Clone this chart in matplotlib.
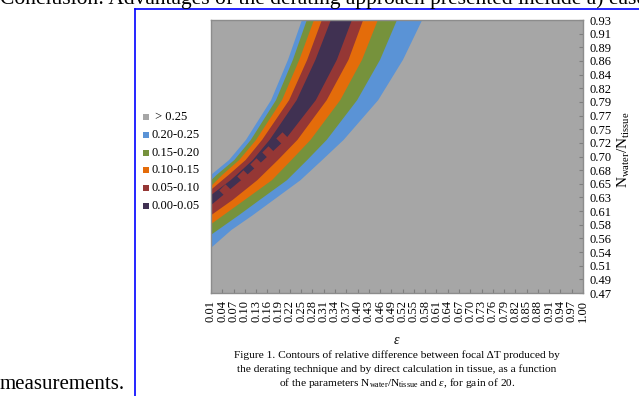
import matplotlib
matplotlib.use("Agg")
import numpy as np
import matplotlib.pyplot as plt
from matplotlib.lines import Line2D
from matplotlib.patches import Rectangle

plt.rcParams['font.family'] = ['Liberation Serif', 'DejaVu Serif']
plt.rcParams['mathtext.fontset'] = 'custom'
plt.rcParams['mathtext.rm'] = 'Liberation Serif'
plt.rcParams['mathtext.it'] = 'Liberation Serif:italic'

# category labels
eps_labels = ["0.01", "0.04", "0.07", "0.10", "0.13", "0.16", "0.19", "0.22",
              "0.25", "0.28", "0.31", "0.34", "0.37", "0.40", "0.43", "0.46",
              "0.49", "0.52", "0.55", "0.58", "0.61", "0.64", "0.67", "0.70",
              "0.73", "0.76", "0.79", "0.82", "0.85", "0.88", "0.91", "0.94",
              "0.97", "1.00"]
ratio_labels = ["0.47", "0.49", "0.51", "0.54", "0.56", "0.58", "0.61", "0.63",
                "0.65", "0.68", "0.70", "0.72", "0.75", "0.77", "0.79", "0.82",
                "0.84", "0.86", "0.89", "0.91", "0.93"]

legend_labels = [" > 0.25", "0.20-0.25", "0.15-0.20", "0.10-0.15", "0.05-0.10", "0.00-0.05"]
legend_colors = ["#A6A6A6", "#5A93D6", "#76923C", "#E46C0A", "#953735", "#403152"]

# contour edges (eps, N_water/N_tissue), top edge -> left edge
# upper-left side of the valley
edge1_eps = [0.252, 0.215, 0.170, 0.103, 0.058, 0.010]
edge1_n = [0.930, 0.863, 0.795, 0.728, 0.694, 0.669]
edge2_eps = [0.265, 0.228, 0.183, 0.116, 0.072, 0.025, 0.010]
edge2_n = [0.930, 0.863, 0.795, 0.728, 0.694, 0.669, 0.660]
edge3_eps = [0.284, 0.245, 0.199, 0.130, 0.085, 0.040, 0.026, 0.010]
edge3_n = [0.930, 0.863, 0.795, 0.728, 0.694, 0.669, 0.660, 0.650]
edge4_eps = [0.305, 0.266, 0.218, 0.146, 0.102, 0.057, 0.040, 0.010]
edge4_n = [0.930, 0.863, 0.795, 0.728, 0.694, 0.669, 0.660, 0.644]
edge5_eps = [0.329, 0.288, 0.238, 0.166, 0.121, 0.078, 0.062, 0.010]
edge5_n = [0.930, 0.863, 0.795, 0.728, 0.694, 0.669, 0.660, 0.635]
# lower-right side of the valley
edge6_eps = [0.385, 0.345, 0.289, 0.207, 0.150, 0.090, 0.010]
edge6_n = [0.930, 0.863, 0.795, 0.728, 0.694, 0.660, 0.618]
edge7_eps = [0.415, 0.376, 0.318, 0.240, 0.188, 0.133, 0.068, 0.010]
edge7_n = [0.930, 0.863, 0.795, 0.728, 0.694, 0.660, 0.627, 0.601]
edge8_eps = [0.454, 0.412, 0.354, 0.275, 0.224, 0.172, 0.100, 0.043, 0.010]
edge8_n = [0.930, 0.863, 0.795, 0.728, 0.694, 0.660, 0.627, 0.601, 0.586]
edge9_eps = [0.505, 0.460, 0.399, 0.318, 0.266, 0.212, 0.140, 0.084, 0.010]
edge9_n = [0.930, 0.863, 0.795, 0.728, 0.694, 0.660, 0.627, 0.601, 0.568]
edge10_eps = [0.572, 0.521, 0.455, 0.363, 0.306, 0.248, 0.177, 0.121, 0.064, 0.010]
edge10_n = [0.930, 0.863, 0.795, 0.728, 0.694, 0.660, 0.627, 0.601, 0.576, 0.546]

# places where the 0.00-0.05 band breaks into blobs
gap_eps = [0.046, 0.095, 0.130, 0.162, 0.198]
gap_n = [0.644, 0.667, 0.687, 0.708, 0.731]

W, H = 639, 396


def px_x(x):
    return x / W


def px_y(y):
    return 1 - y / H


def draw_bands(ax):
    """
    Fills each contour band, outer bands first, inner ones on top.
    """
    bands = [
        (edge1_eps, edge1_n, edge10_eps, edge10_n, legend_colors[1]),
        (edge2_eps, edge2_n, edge9_eps, edge9_n, legend_colors[2]),
        (edge3_eps, edge3_n, edge8_eps, edge8_n, legend_colors[3]),
        (edge4_eps, edge4_n, edge7_eps, edge7_n, legend_colors[4]),
        (edge5_eps, edge5_n, edge6_eps, edge6_n, legend_colors[5]),
    ]
    for le, ln, re, rn, color in bands:
        xs = list(le) + list(reversed(re))
        ys = list(ln) + list(reversed(rn))
        ax.fill(xs, ys, color=color, lw=0)
    ax.scatter(gap_eps, gap_n, marker='D', s=40, color=legend_colors[4], lw=0, zorder=3)


def main():
    fig = plt.figure(figsize=(W / 100, H / 100), dpi=100)
    ax = fig.add_axes([px_x(211), px_y(293), (583 - 211) / W, (293 - 20) / H])
    ax.set_facecolor(legend_colors[0])

    draw_bands(ax)

    ax.set_xlim(0.01, 1.00)
    ax.set_ylim(0.47, 0.93)
    ax.set_xticks([float(s) for s in eps_labels])
    ax.set_xticklabels(eps_labels, rotation=90)
    ax.set_yticks(np.linspace(0.47, 0.93, len(ratio_labels)))
    ax.set_yticklabels(ratio_labels)
    ax.yaxis.tick_right()
    ax.tick_params(axis='both', direction='in', length=3, color='#7F7F7F',
                   labelsize=9, width=0.8)
    ax.tick_params(axis='x', pad=5)
    ax.tick_params(axis='y', pad=5)
    for sp in ax.spines.values():
        sp.set_color('#8C8C8C')
        sp.set_linewidth(1)

    # axis titles
    fig.text(px_x(397), px_y(341), r'$\varepsilon$', ha='center', va='center', fontsize=10)
    fig.text(px_x(624), px_y(150), r'N$_{\mathrm{water}}$/N$_{\mathrm{tissue}}$',
             rotation=90, ha='center', va='center', fontsize=11)

    # legend
    for i, (lab, col) in enumerate(zip(legend_labels, legend_colors)):
        yc = 117 + 17.8 * i
        fig.add_artist(Rectangle((px_x(143), px_y(yc + 3)), 6 / W, 6 / H,
                                 transform=fig.transFigure, color=col, lw=0))
        fig.text(px_x(152), px_y(yc), lab, ha='left', va='center', fontsize=9)

    # caption
    caption = ["Figure 1. Contours of relative difference between focal \u0394T produced by",
               "the derating technique and by direct calculation in tissue, as a function",
               r"of the parameters N$_{\mathrm{water}}$/N$_{\mathrm{tissue}}$ and $\varepsilon$, for gain of 20."]
    for i, line in enumerate(caption):
        fig.text(px_x(397), px_y(355 + 14 * i), line, ha='center', va='center', fontsize=8.2)

    # surrounding page
    fig.text(px_x(0), px_y(4), "Conclusion: Advantages of the derating approach presented include a) ease of",
             ha='left', va='baseline', fontsize=15.5)
    fig.text(px_x(0), px_y(389), "measurements.", ha='left', va='baseline', fontsize=15)
    fig.add_artist(Line2D([px_x(135), px_x(135)], [px_y(9), 0], color='#0000FF', lw=1.2))
    fig.add_artist(Line2D([px_x(135), 1], [px_y(9), px_y(9)], color='#0000FF', lw=1.2))

    fig.savefig("out.png", dpi=100)
    plt.close(fig)


if __name__ == "__main__":
    main()
